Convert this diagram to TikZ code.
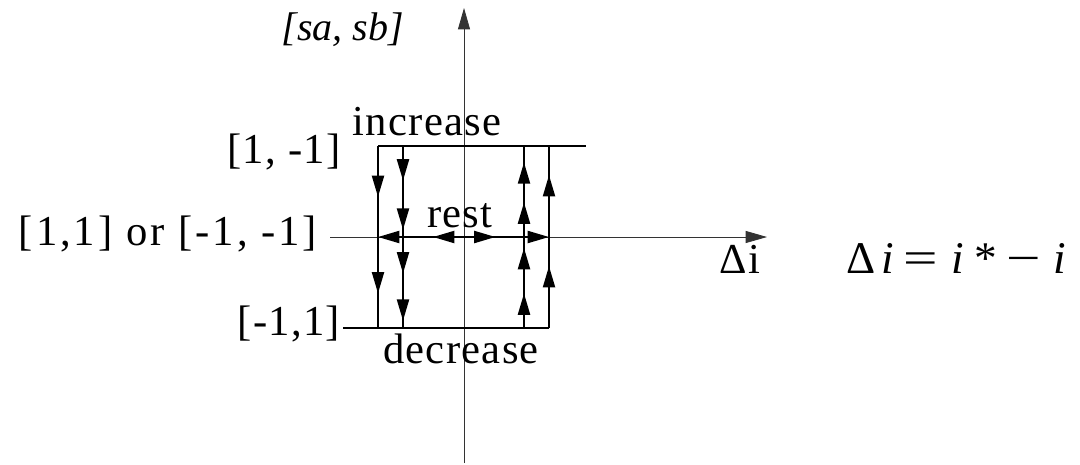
\documentclass[tikz,border=0pt]{standalone}
\usepackage{fontspec}
\usepackage{graphicx}
\setmainfont{Liberation Serif}
\newfontfamily\wide[LetterSpace=3]{Liberation Serif}
\newfontfamily\wider[LetterSpace=7]{Liberation Serif}
\newcommand{\wideop}[1]{\scalebox{1.35}[1]{#1}}
\usetikzlibrary{arrows.meta, positioning, decorations.markings}
\tikzset{
  every picture/.style={line width=1.6pt},
  hd/.tip={Triangle[length=16pt, width=9pt]},
  lbl/.style={font=\wide\fontsize{32}{34}\selectfont, inner sep=0pt, anchor=base},
  axis/.style={line width=0.6pt, draw=black!80, -{Triangle[length=16pt, width=9pt]}},
  loop/.style={line width=1.6pt},
  mark at/.style={decoration={markings, mark=at position #1 with {\arrow{hd}}}},
  arrowed/.style={postaction=decorate},
}

\begin{document}
\begin{tikzpicture}[x=0.75pt, y=-0.75pt]
  \useasboundingbox (0,0) rectangle (1080,464);
  \coordinate (ybot) at (464,463);
  \coordinate (ytop) at (464,8);
  \coordinate (xl) at (330,237);
  \coordinate (xr) at (767,237);
  \draw[axis] (ybot) -- (ytop);
  \draw[axis] (xl) -- (xr);

  \coordinate (t1) at (378,146);  \coordinate (b1) at (378,328);
  \coordinate (t2) at (403,146);  \coordinate (b2) at (403,328);
  \coordinate (t3) at (524,146);  \coordinate (b3) at (524,328);
  \coordinate (t4) at (549,146);  \coordinate (b4) at (549,328);
  \coordinate (tend) at (586,146);
  \coordinate (bend) at (343,328);
  \coordinate (mid) at (464,237);
  \coordinate (rl) at (378,237);
  \coordinate (rr) at (549,237);

  \draw[loop] (t1) -- (tend);
  \draw[loop] (bend) -- (b4);
  \draw[loop, mark at/.list={0.28,0.81}, arrowed] (t1) -- (b1);
  \draw[loop, mark at/.list={0.19,0.46,0.70,0.96}, arrowed] (t2) -- (b2);
  \draw[loop, mark at/.list={0.19,0.44,0.69,0.91}, arrowed] (b3) -- (t3);
  \draw[loop, mark at/.list={0.34,0.84}, arrowed] (b4) -- (t4);
  \draw[loop, -{hd}, mark at=0.36, arrowed] (mid) -- (rl);
  \draw[loop, -{hd}, mark at=0.37, arrowed] (mid) -- (rr);

  \node[lbl, font=\itshape\fontsize{30}{32}\selectfont] (ylab) at (343,40) {[sa, sb]};
  \node[lbl] (inc) at (427,135) {increase};
  \node[lbl] (ptop) at (284,163) {[1, -1]};
  \node[lbl, font=\wider\fontsize{32}{34}\selectfont] (pmid) at (168,245) {[1,1] or [-1, -1]};
  \node[lbl] (pbot) at (289,335) {[-1,1]};
  \node[lbl] (dec) at (461,363) {decrease};
  \node[lbl] (rest) at (460,227) {rest};
  \node[lbl] (dlab) at (740,273) {Δi};
  \node[lbl, font=\fontsize{34}{36}\selectfont] (eqn) at (956,273)
    {Δ\hspace{5pt}\textit{i}\hspace{7pt}\wideop{=}\hspace{10pt}\textit{i}\hspace{8pt}*\hspace{7pt}\wideop{−}\hspace{9pt}\textit{i}};
\end{tikzpicture}
\end{document}
